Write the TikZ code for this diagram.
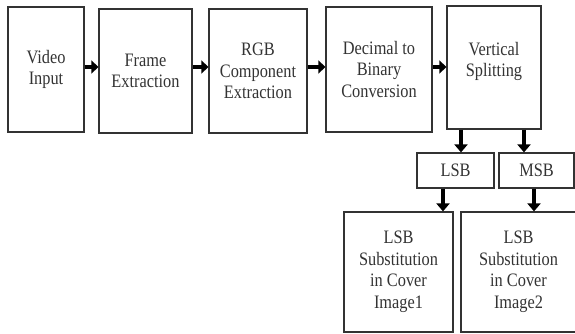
\documentclass[tikz,border=0pt]{standalone}
\usepackage{fontspec}
\setmainfont{Liberation Serif}
\newfontfamily\boxfont[FakeStretch=0.86]{Liberation Serif}
\usetikzlibrary{arrows.meta}
\tikzset{
  box/.style={draw=black!80, line width=1.2pt, align=center, inner sep=0pt,
    font=\boxfont\fontsize{19}{21.5}\selectfont, text=black!80},
  arr/.style={line width=4.5pt, draw=black, -{Triangle[length=7pt,width=13pt]}},
  darr/.style={line width=4.5pt, draw=black, -{Triangle[length=8pt,width=13pt]}}
}
\begin{document}
\begin{tikzpicture}[x=1pt,y=-1pt]
\useasboundingbox (0,0) rectangle (575,334);
\node[box, minimum width=76pt, minimum height=125pt] (b1) at (46,69.5) {Video\\Input};
\node[box, minimum width=93pt, minimum height=124pt] (b2) at (145.5,71) {Frame\\Extraction};
\node[box, minimum width=98pt, minimum height=124pt] (b3) at (258,71) {RGB\\Component\\Extraction};
\node[box, minimum width=106pt, minimum height=125pt] (b4) at (379,69.5) {Decimal to\\Binary\\Conversion};
\node[box, minimum width=94pt, minimum height=123pt, text depth=16pt] (b5) at (494,67.5) {Vertical\\Splitting};
\node[box, minimum width=77pt, minimum height=35pt] (lsb) at (455.5,170.5) {LSB};
\node[box, minimum width=75pt, minimum height=35pt] (msb) at (536.5,170.5) {MSB};
\node[box, minimum width=109pt, minimum height=120pt] (c1) at (398.5,272) {LSB\\Substitution\\in Cover\\Image1};
\node[box, minimum width=115pt, minimum height=120pt] (c2) at (518.5,272) {LSB\\Substitution\\in Cover\\Image2};
\coordinate (ah) at (0,67);
\coordinate (d1) at (461,0);
\coordinate (d2) at (524,0);
\coordinate (e1) at (443,0);
\coordinate (e2) at (534,0);
\draw[arr] (b1.east |- ah) -- (b2.west |- ah);
\draw[arr] (b2.east |- ah) -- (b3.west |- ah);
\draw[arr] (b3.east |- ah) -- (b4.west |- ah);
\draw[arr] (b4.east |- ah) -- (b5.west |- ah);
\draw[darr] (b5.south -| d1) -- (lsb.north -| d1);
\draw[darr] (b5.south -| d2) -- (msb.north -| d2);
\draw[darr] (lsb.south -| e1) -- (c1.north -| e1);
\draw[darr] (msb.south -| e2) -- (c2.north -| e2);
\end{tikzpicture}
\end{document}
